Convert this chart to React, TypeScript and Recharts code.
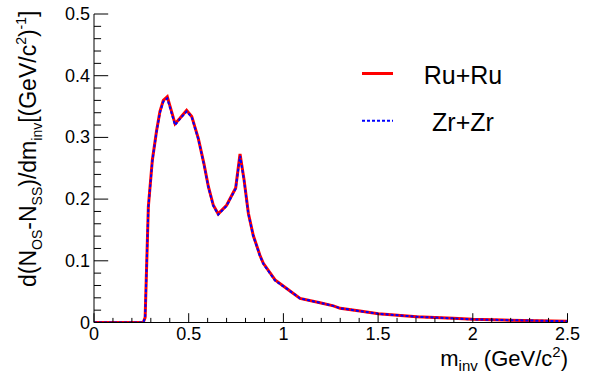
import React from "react";
import { LineChart, Line, XAxis, YAxis } from "recharts";

const massValues = [0, 0.26, 0.27, 0.287, 0.308, 0.33, 0.348, 0.366, 0.387, 0.428, 0.454, 0.489, 0.516, 0.551, 0.58, 0.604, 0.63, 0.656, 0.7, 0.748, 0.771, 0.792, 0.815, 0.841, 0.876, 0.894, 0.956, 1.026, 1.088, 1.193, 1.264, 1.3, 1.404, 1.501, 1.704, 1.897, 2.0, 2.16, 2.5];
const ruValues = [0, 0, 0.008, 0.188, 0.263, 0.31, 0.342, 0.36, 0.366, 0.322, 0.331, 0.344, 0.334, 0.298, 0.258, 0.22, 0.19, 0.176, 0.19, 0.218, 0.273, 0.232, 0.177, 0.141, 0.109, 0.096, 0.069, 0.053, 0.039, 0.032, 0.027, 0.023, 0.0186, 0.0143, 0.0094, 0.0068, 0.0052, 0.004, 0.002];
const zrValues = [0, 0, 0.008, 0.186, 0.262, 0.309, 0.34, 0.358, 0.363, 0.32, 0.33, 0.342, 0.333, 0.297, 0.257, 0.219, 0.189, 0.175, 0.189, 0.217, 0.27, 0.231, 0.176, 0.14, 0.108, 0.095, 0.068, 0.053, 0.039, 0.032, 0.027, 0.023, 0.0185, 0.0142, 0.0093, 0.0067, 0.0051, 0.004, 0.002];

const xTicks = [0, 0.1, 0.2, 0.3, 0.4, 0.5, 0.6, 0.7, 0.8, 0.9, 1, 1.1, 1.2, 1.3, 1.4, 1.5, 1.6, 1.7, 1.8, 1.9, 2, 2.1, 2.2, 2.3, 2.4, 2.5];
const xMajorTicks = [0, 0.5, 1, 1.5, 2, 2.5];
const yTicks = [0, 0.02, 0.04, 0.06, 0.08, 0.1, 0.12, 0.14, 0.16, 0.18, 0.2, 0.22, 0.24, 0.26, 0.28, 0.3, 0.32, 0.34, 0.36, 0.38, 0.4, 0.42, 0.44, 0.46, 0.48, 0.5];
const yMajorTicks = [0, 0.1, 0.2, 0.3, 0.4, 0.5];

const data = massValues.map((m, i) => ({ m, ru: ruValues[i], zr: zrValues[i] }));

const FONT = "'Liberation Sans', Arial, sans-serif";
const isMajor = (v: number, majors: number[]) => majors.some((t) => Math.abs(t - v) < 1e-9);

const BottomTick = (props: any) => {
  const { x, y, payload } = props;
  const major = isMajor(payload.value, xMajorTicks);
  return (
    <g>
      <line x1={x} x2={x} y1={y} y2={y - (major ? 9.3 : 4.6)} stroke="#000" strokeWidth={1} />
      {major && (
        <text x={x} y={y + 17} textAnchor="middle" fontSize={18} fontFamily={FONT} fill="#000">
          {String(payload.value)}
        </text>
      )}
    </g>
  );
};

const TopTick = (props: any) => {
  const { x, y, payload } = props;
  const major = isMajor(payload.value, xMajorTicks);
  return <line x1={x} x2={x} y1={y} y2={y + (major ? 9.3 : 4.6)} stroke="#000" strokeWidth={1} />;
};

const LeftTick = (props: any) => {
  const { x, y, payload } = props;
  const major = isMajor(payload.value, yMajorTicks);
  return (
    <g>
      <line x1={x} x2={x + (major ? 14.2 : 7.1)} y1={y} y2={y} stroke="#000" strokeWidth={1} />
      {major && (
        <text x={x - 4} y={y + 6} textAnchor="end" fontSize={18} fontFamily={FONT} fill="#000">
          {String(payload.value)}
        </text>
      )}
    </g>
  );
};

const RightTick = (props: any) => {
  const { x, y, payload } = props;
  const major = isMajor(payload.value, yMajorTicks);
  return <line x1={x} x2={x - (major ? 14.2 : 7.1)} y1={y} y2={y} stroke="#000" strokeWidth={1} />;
};

export default function App() {
  return (
    <div style={{ position: "absolute", left: 0, top: 0, width: 592, height: 374, background: "#fff" }}>
      <LineChart width={592} height={374} data={data} margin={{ top: 14, right: 24.5, bottom: 21.5, left: 0 }}>
        <XAxis
          dataKey="m"
          type="number"
          domain={[0, 2.5]}
          ticks={xTicks}
          interval={0}
          tickSize={0}
          tickMargin={0}
          tickLine={false}
          tick={<BottomTick />}
          axisLine={{ stroke: "#000", strokeWidth: 1 }}
          height={30}
          allowDataOverflow
        />
        <XAxis
          xAxisId="top"
          orientation="top"
          dataKey="m"
          type="number"
          domain={[0, 2.5]}
          ticks={xTicks}
          interval={0}
          tickSize={0}
          tickMargin={0}
          tickLine={false}
          tick={<TopTick />}
          axisLine={{ stroke: "#000", strokeWidth: 1 }}
          height={0}
          allowDataOverflow
        />
        <YAxis
          type="number"
          domain={[0, 0.5]}
          ticks={yTicks}
          interval={0}
          tickSize={0}
          tickMargin={0}
          tickLine={false}
          tick={<LeftTick />}
          axisLine={{ stroke: "#000", strokeWidth: 1 }}
          width={94}
          allowDataOverflow
        />
        <YAxis
          yAxisId="right"
          orientation="right"
          type="number"
          domain={[0, 0.5]}
          ticks={yTicks}
          interval={0}
          tickSize={0}
          tickMargin={0}
          tickLine={false}
          tick={<RightTick />}
          axisLine={{ stroke: "#000", strokeWidth: 1 }}
          width={0}
          allowDataOverflow
        />
        <Line type="linear" dataKey="ru" stroke="#ff0000" strokeWidth={3} dot={false} isAnimationActive={false} />
        <Line type="linear" dataKey="zr" stroke="#0000ff" strokeWidth={2} strokeDasharray="3 2" dot={false} isAnimationActive={false} />
      </LineChart>
      <svg width={592} height={374} style={{ position: "absolute", left: 0, top: 0, pointerEvents: "none" }}>
        <g fontFamily={FONT} fill="#000">
          <line x1={362} x2={393} y1={73.5} y2={73.5} stroke="#ff0000" strokeWidth={3} />
          <text x={463} y={84} textAnchor="middle" fontSize={25}>Ru+Ru</text>
          <line x1={362} x2={393} y1={120.7} y2={120.7} stroke="#0000ff" strokeWidth={2} strokeDasharray="3 2" />
          <text x={463} y={131} textAnchor="middle" fontSize={25}>Zr+Zr</text>
          <text x={568} y={366} textAnchor="end" fontSize={22}>
            m<tspan dy={5} fontSize={15}>inv</tspan>
            <tspan dy={-5}> (GeV/c</tspan>
            <tspan dy={-9} fontSize={15}>2</tspan>
            <tspan dy={9}>)</tspan>
          </text>
          <text x={36} y={287} transform="rotate(-90 36 287)" fontSize={23}>
            d(N<tspan dy={6} fontSize={14}>OS</tspan>
            <tspan dy={-6}>-N</tspan>
            <tspan dy={6} fontSize={14}>SS</tspan>
            <tspan dy={-6}>)/dm</tspan>
            <tspan dy={6} fontSize={14}>inv</tspan>
            <tspan dy={-6}>[(GeV/c</tspan>
            <tspan dy={-10} fontSize={14}>2</tspan>
            <tspan dy={10}>)</tspan>
            <tspan dy={-10} fontSize={14}>-1</tspan>
            <tspan dy={10}>]</tspan>
          </text>
        </g>
      </svg>
    </div>
  );
}
